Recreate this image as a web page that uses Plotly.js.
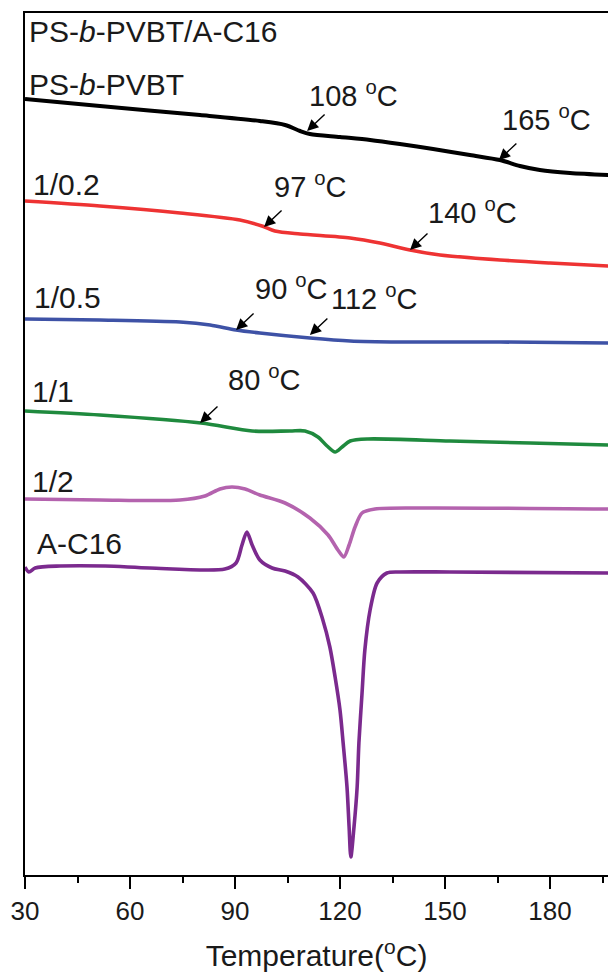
<!DOCTYPE html>
<html>
<head>
<meta charset="utf-8">
<script src="https://cdn.plot.ly/plotly-3.0.1.min.js"></script>
<style>html,body{margin:0;padding:0;background:#fff;}#chart{width:608px;height:974px;}</style>
</head>
<body>
<div id="chart"></div>
<script>
// Temperature (°C) and heat flow (a.u., offset curves)
const tBlack = [30, 51.4, 80, 97.1, 104.3, 108.6, 111.4, 120, 128.6, 137.1, 146.6, 157.1, 165.7, 171.4, 177.1, 185.7, 196.6];
const yBlack = [77.6, 76.9, 76.0, 75.4, 75.0, 74.4, 74.1, 73.8, 73.5, 73.1, 72.6, 72.0, 71.5, 70.9, 70.5, 70.2, 70.0];

const tRed = [30, 51.4, 74.3, 91.4, 97.7, 101.4, 108.6, 122.9, 131.4, 140, 148.6, 165.7, 180, 196.6];
const yRed = [67.4, 66.9, 66.2, 65.5, 64.9, 64.4, 64.1, 63.7, 63.2, 62.5, 62.0, 61.5, 61.2, 60.9];

const tBlue = [30, 51.4, 74.3, 82.9, 90.3, 97.1, 111.4, 122.9, 137.1, 165.7, 196.6];
const yBlue = [55.6, 55.5, 55.3, 55.0, 54.5, 54.2, 53.7, 53.4, 53.3, 53.3, 53.2];

const tGreen = [30, 51.4, 80.3, 94.9, 105.7, 110, 113.7, 116.3, 118.6, 120.6, 122.9, 128, 151.4, 174.3, 196.6];
const yGreen = [46.4, 46.0, 45.2, 44.4, 44.4, 44.4, 43.8, 42.9, 42.3, 42.8, 43.4, 43.6, 43.4, 43.2, 43.0];

const tPink = [30, 51.4, 74.3, 81.4, 85.7, 89.1, 92.9, 97.1, 104.3, 111.4, 116.6, 119.4, 121.1, 122.6, 124.3, 126.3, 130, 142.9, 196.6];
const yPink = [37.6, 37.5, 37.5, 37.9, 38.6, 38.8, 38.6, 38.0, 37.2, 35.7, 34.0, 32.5, 31.8, 33.0, 34.8, 36.2, 36.6, 36.7, 36.6];

const tPurple = [30, 31.1, 32.9, 40, 52.9, 65.7, 87.1, 90.3, 92, 93.4, 94.9, 97.1, 100.6, 104.3, 108, 112.3, 115.1, 117.1, 118.6, 120, 120.9, 122, 122.6, 123.1, 124, 124.9, 125.4, 126.3, 127.1, 128.6, 130.6, 133.4, 137.1, 151.4, 196.6];
const yPurple = [30.8, 30.3, 30.7, 30.9, 30.9, 30.7, 30.6, 31.2, 33.0, 34.3, 33.0, 31.5, 30.7, 30.4, 29.8, 28.2, 25.5, 22.8, 19.8, 16.5, 13.2, 8.8, 4.8, 1.8, 4.8, 8.8, 13.2, 18.2, 22.5, 26.5, 29.2, 30.2, 30.3, 30.3, 30.2];

const seriesNames = ["PS-<i>b</i>-PVBT", "1/0.2", "1/0.5", "1/1", "1/2", "A-C16"];
const seriesColors = ["#000000", "#ee3333", "#3e52a6", "#1f8a3e", "#b463ae", "#7b2a8e"];
const xTickVals = [30, 60, 90, 120, 150, 180];

// transition temperatures marked with arrows
const markT = [110.6, 165.4, 98.3, 140, 90.3, 111.4, 80];
const markY = [74.4, 71.5, 64.8, 62.5, 54.5, 54.0, 45.2];
const markText = ["108 <sup>o</sup>C", "165 <sup>o</sup>C", "97 <sup>o</sup>C", "140 <sup>o</sup>C", "90 <sup>o</sup>C", "112 <sup>o</sup>C", "80 <sup>o</sup>C"];
const markTextT = [110.6, 165.8, 100.6, 144.6, 95.2, 116.9, 87.4];
const markTextY = [78.1, 75.75, 69.0, 66.4, 58.8, 57.8, 49.7];

const labelT = [30.5, 31.6, 31.9, 31.3, 31.3, 32.8];
const labelY = [79.1, 69.1, 57.8, 48.4, 39.4, 33.2];

const xs = [tBlack, tRed, tBlue, tGreen, tPink, tPurple];
const ys = [yBlack, yRed, yBlue, yGreen, yPink, yPurple];

const FONT = "Liberation Sans, Arial, Helvetica, sans-serif";
const TXT = "#1a1a1a";

const traces = xs.map((x, i) => ({
  x: x, y: ys[i], type: "scatter", mode: "lines", name: seriesNames[i],
  line: {color: seriesColors[i], width: i === 0 ? 4 : 3.6, shape: "spline", smoothing: 0.8},
  hoverinfo: "skip", showlegend: false
}));

const annotations = [];
annotations.push({x: 30.5, y: 84.4, xref: "x", yref: "y", text: "PS-<i>b</i>-PVBT/A-C16",
  showarrow: false, xanchor: "left", yanchor: "middle", font: {family: FONT, size: 30, color: TXT}});
seriesNames.forEach((n, i) => annotations.push({x: labelT[i], y: labelY[i], xref: "x", yref: "y", text: n,
  showarrow: false, xanchor: "left", yanchor: "middle", font: {family: FONT, size: 30, color: TXT}}));
markT.forEach((t, i) => {
  annotations.push({x: t, y: markY[i], xref: "x", yref: "y", text: "", showarrow: true,
    ax: 19, ay: -18, arrowhead: 2, arrowsize: 1.6, arrowwidth: 1.4, arrowcolor: "#000", standoff: 0});
  annotations.push({x: markTextT[i], y: markTextY[i], xref: "x", yref: "y", text: markText[i],
    showarrow: false, xanchor: "left", yanchor: "middle", font: {family: FONT, size: 29, color: TXT}});
});

const layout = {
  width: 608, height: 974,
  margin: {l: 25, r: 0, t: 13, b: 99, pad: 0},
  paper_bgcolor: "#fff", plot_bgcolor: "#fff",
  showlegend: false,
  font: {family: FONT, color: TXT},
  xaxis: {
    range: [30, 196.57], showgrid: false, zeroline: false,
    showline: true, linecolor: "#000", linewidth: 2, mirror: true,
    ticks: "outside", ticklen: 12, tickwidth: 2, tickcolor: "#000",
    tickvals: xTickVals, ticktext: xTickVals.map(String),
    tickfont: {family: FONT, size: 26, color: TXT},
    minor: {ticks: "outside", ticklen: 6, tickwidth: 2, tickcolor: "#000", tickvals: [45, 75, 105, 135, 165, 195]},
    title: {text: "Temperature(<sup>o</sup>C)", font: {family: FONT, size: 30, color: TXT}, standoff: 20}
  },
  yaxis: {
    range: [0, 86.2], showgrid: false, zeroline: false,
    showline: true, linecolor: "#000", linewidth: 2,
    ticks: "", showticklabels: false
  },
  annotations: annotations
};

Plotly.newPlot("chart", traces, layout, {displayModeBar: false, staticPlot: true});
</script>
</body>
</html>
